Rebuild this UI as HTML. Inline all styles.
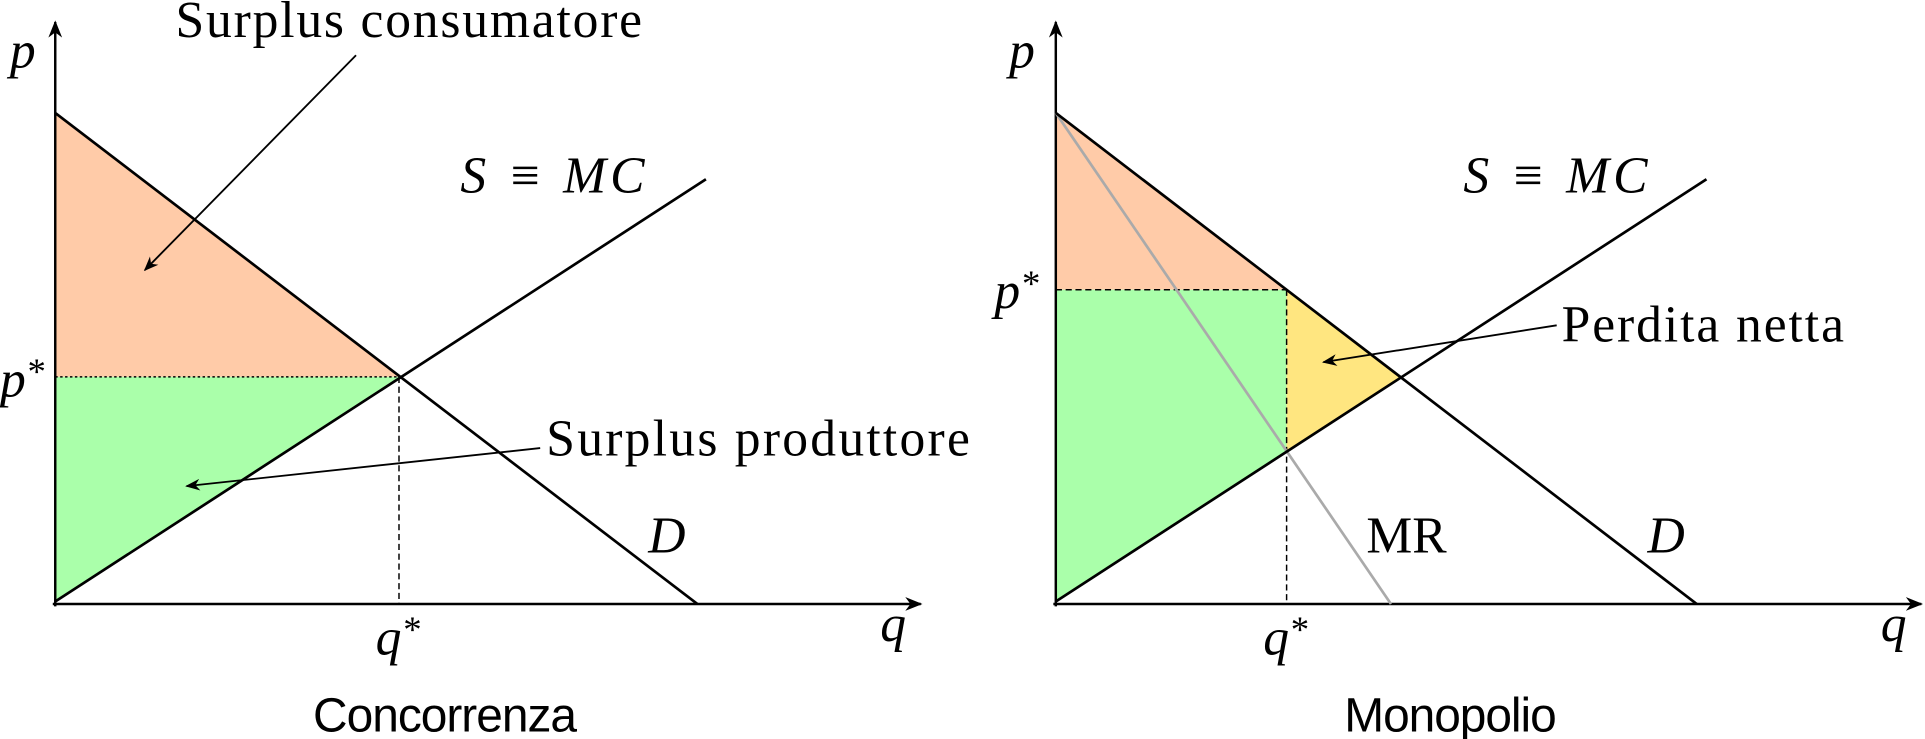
<!DOCTYPE html>
<html><head><style>html,body{margin:0;padding:0;background:#fff}svg{display:block}</style></head>
<body>
<svg width="1925" height="739" viewBox="0 0 1568 602" preserveAspectRatio="none" xmlns="http://www.w3.org/2000/svg">
<defs>
<marker id="ah" viewBox="0 0 10 10" refX="9" refY="5" markerWidth="12" markerHeight="12" orient="auto" markerUnits="userSpaceOnUse"><path d="M0,1 L10,5 L0,9 L3,5 z" fill="#000"/></marker>
<marker id="ax" viewBox="0 0 10 10" refX="9" refY="5" markerWidth="14" markerHeight="14" orient="auto" markerUnits="userSpaceOnUse"><path d="M0,1 L10,5 L0,9 L3,5 z" fill="#000"/></marker>
</defs>
<g font-family="Liberation Serif, serif" font-size="42">
<!-- left -->
<polygon points="45,92 45,307 325,307" fill="#FFCBA8"/>
<polygon points="45,307 325,307 45,490" fill="#AAFFAA"/>
<line x1="45" y1="307" x2="325" y2="307" stroke="#000" stroke-width="1.2" stroke-dasharray="2,2"/>
<line x1="325" y1="307" x2="325" y2="492" stroke="#000" stroke-width="1.2" stroke-dasharray="5,3"/>
<line x1="45" y1="494" x2="45" y2="18" stroke="#000" stroke-width="2" marker-end="url(#ax)"/>
<line x1="43" y1="492" x2="750" y2="492" stroke="#000" stroke-width="2" marker-end="url(#ax)"/>
<line x1="45" y1="92" x2="568" y2="492" stroke="#000" stroke-width="2.2"/>
<line x1="45" y1="490" x2="575" y2="146" stroke="#000" stroke-width="2.2"/>
<line x1="290" y1="45" x2="118" y2="220" stroke="#000" stroke-width="1.5" marker-end="url(#ah)"/>
<line x1="440" y1="365" x2="152" y2="396" stroke="#000" stroke-width="1.5" marker-end="url(#ah)"/>
<text x="143" y="30" textLength="380">Surplus consumatore</text>
<text x="445" y="371" textLength="345">Surplus produttore</text>
<text x="8" y="55" font-style="italic">p</text>
<text x="0" y="323" font-style="italic">p<tspan font-size="30" dy="-10">*</tspan></text>
<text x="306" y="533" font-style="italic">q<tspan font-size="30" dy="-10">*</tspan></text>
<text x="717" y="522" font-style="italic">q</text>
<text x="375" y="157" font-style="italic" textLength="150">S ≡ MC</text>
<text x="528" y="450" font-style="italic">D</text>
<text x="255" y="596" font-family="Liberation Sans, sans-serif" font-size="39" textLength="215">Concorrenza</text>
<!-- right -->
<polygon points="860,92 860,236 1048,236" fill="#FFCBA8"/>
<polygon points="860,236 1048,236 1048,368 860,490" fill="#AAFFAA"/>
<polygon points="1048,236 1048,368 1141,307" fill="#FFE680"/>
<line x1="860" y1="236" x2="1048" y2="236" stroke="#000" stroke-width="1.2" stroke-dasharray="5,3"/>
<line x1="1048" y1="236" x2="1048" y2="492" stroke="#000" stroke-width="1.2" stroke-dasharray="5,3"/>
<line x1="860" y1="494" x2="860" y2="18" stroke="#000" stroke-width="2" marker-end="url(#ax)"/>
<line x1="858" y1="492" x2="1565" y2="492" stroke="#000" stroke-width="2" marker-end="url(#ax)"/>
<line x1="860" y1="92" x2="1133" y2="492" stroke="#aaa" stroke-width="2.2"/>
<line x1="860" y1="92" x2="1382" y2="492" stroke="#000" stroke-width="2.2"/>
<line x1="860" y1="490" x2="1390" y2="146" stroke="#000" stroke-width="2.2"/>
<line x1="1268" y1="265" x2="1078" y2="295" stroke="#000" stroke-width="1.5" marker-end="url(#ah)"/>
<text x="1272" y="278" textLength="230">Perdita netta</text>
<text x="822" y="55" font-style="italic">p</text>
<text x="810" y="251" font-style="italic">p<tspan font-size="30" dy="-10">*</tspan></text>
<text x="1029" y="533" font-style="italic">q<tspan font-size="30" dy="-10">*</tspan></text>
<text x="1532" y="522" font-style="italic">q</text>
<text x="1192" y="157" font-style="italic" textLength="150">S ≡ MC</text>
<text x="1342" y="450" font-style="italic">D</text>
<text x="1113" y="450">MR</text>
<text x="1095" y="596" font-family="Liberation Sans, sans-serif" font-size="39" textLength="173">Monopolio</text>
</g>
</svg>
</body></html>
